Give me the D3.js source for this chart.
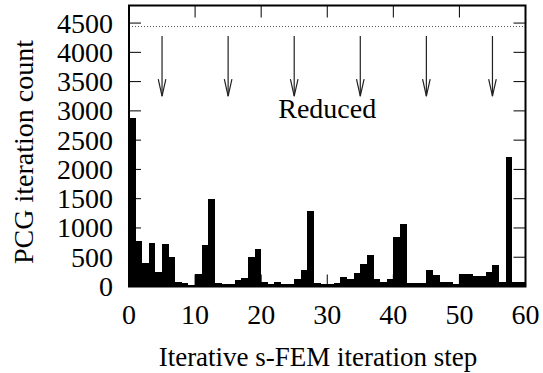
<!DOCTYPE html>
<html>
<head>
<meta charset="utf-8">
<script src="https://cdn.jsdelivr.net/npm/d3@7"></script>
<style>
  html, body { margin: 0; padding: 0; background: #fff; }
</style>
</head>
<body>
<div id="chart"></div>
<script>
// PCG iteration count per iterative s-FEM step (bar k covers step k..k+1)
var pcgCounts = [2880, 776, 394, 736, 250, 719, 507, 79, 68, 30,
  215, 707, 1495, 62, 51, 45, 108, 147, 507, 640,
  69, 51, 85, 51, 51, 120, 280, 1295, 60, 51,
  40, 62, 165, 130, 233, 382, 536, 128, 79, 120,
  838, 1062, 68, 68, 68, 279, 193, 79, 79, 51,
  210, 210, 182, 182, 240, 365, 79, 2208, 70, 80];
var reducedSteps = [5, 15, 25, 35, 45, 55];
var arrowFrom = 4280, arrowTo = 3250;
var limitLevel = 4440;
var reducedLabel = { step: 30, value: 2880, text: 'Reduced' };
var xTicks = [0, 10, 20, 30, 40, 50, 60];
var yTicks = [0, 500, 1000, 1500, 2000, 2500, 3000, 3500, 4000, 4500];

(function () {
  'use strict';
  var width = 543, height = 373;
  var fs = 27, tfs = 28;

  var x = d3.scaleLinear().domain([0, 60]).range([129, 525.5]);
  var y = d3.scaleLinear().domain([0, 4800]).range([286.5, 5.5]);

  var svg = d3.select('#chart').append('svg').attr('width', width).attr('height', height)
    .attr('font-family', '"Liberation Serif", "Times New Roman", serif');

  // bars
  svg.append('g').selectAll('rect').data(pcgCounts).enter().append('rect')
    .attr('x', function (d, i) { return x(i); })
    .attr('width', function (d, i) { return x(i + 1) - x(i); })
    .attr('y', function (d) { return y(d); })
    .attr('height', function (d) { return y(0) - y(d); })
    .attr('fill', '#000')
    .attr('shape-rendering', 'crispEdges');

  // dotted limit line
  svg.append('line')
    .attr('x1', x(0)).attr('x2', x(60))
    .attr('y1', y(limitLevel)).attr('y2', y(limitLevel))
    .attr('stroke', '#555').attr('stroke-width', 1).attr('stroke-dasharray', '1,2');

  // arrows
  var ag = svg.append('g').attr('stroke', '#222').attr('stroke-width', 1.2).attr('fill', 'none');
  reducedSteps.forEach(function (s) {
    var cx = x(s);
    ag.append('line').attr('x1', cx).attr('x2', cx).attr('y1', y(arrowFrom)).attr('y2', y(arrowTo));
    ag.append('path').attr('d', 'M' + (cx - 3.8) + ',' + (y(arrowTo) - 17) + 'L' + cx + ',' + y(arrowTo) + 'L' + (cx + 3.8) + ',' + (y(arrowTo) - 17));
  });

  svg.append('text')
    .attr('x', x(reducedLabel.step)).attr('y', y(reducedLabel.value))
    .attr('text-anchor', 'middle').attr('font-size', tfs)
    .text(reducedLabel.text);

  // axes: ticks drawn inward on all four sides
  var tickLen = 12;
  var tg = svg.append('g').attr('stroke', '#000').attr('stroke-width', 1);
  yTicks.forEach(function (v) {
    tg.append('line').attr('x1', x(0)).attr('x2', x(0) + tickLen).attr('y1', y(v)).attr('y2', y(v));
    tg.append('line').attr('x1', x(60)).attr('x2', x(60) - tickLen).attr('y1', y(v)).attr('y2', y(v));
  });
  xTicks.forEach(function (v) {
    tg.append('line').attr('x1', x(v)).attr('x2', x(v)).attr('y1', y(0)).attr('y2', y(0) - tickLen);
    tg.append('line').attr('x1', x(v)).attr('x2', x(v)).attr('y1', y(4800)).attr('y2', y(4800) + tickLen);
  });

  svg.append('g').selectAll('text').data(yTicks).enter().append('text')
    .attr('x', 113).attr('y', function (d) { return y(d); }).attr('dy', '0.34em')
    .attr('text-anchor', 'end').attr('font-size', tfs)
    .text(function (d) { return d; });

  svg.append('g').selectAll('text').data(xTicks).enter().append('text')
    .attr('x', function (d) { return x(d); }).attr('y', 324)
    .attr('text-anchor', 'middle').attr('font-size', tfs)
    .text(function (d) { return d; });

  // frame
  svg.append('rect')
    .attr('x', x(0)).attr('y', y(4800))
    .attr('width', x(60) - x(0)).attr('height', y(0) - y(4800))
    .attr('fill', 'none').attr('stroke', '#000').attr('stroke-width', 2);

  svg.append('text')
    .attr('x', 318).attr('y', 366)
    .attr('text-anchor', 'middle').attr('font-size', fs)
    .text('Iterative s-FEM iteration step');

  svg.append('text')
    .attr('transform', 'translate(33,152) rotate(-90)')
    .attr('text-anchor', 'middle').attr('font-size', tfs)
    .text('PCG iteration count');
})();
</script>
</body>
</html>
